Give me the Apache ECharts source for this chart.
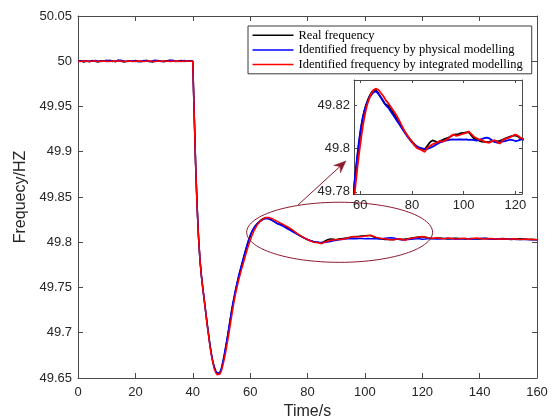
<!DOCTYPE html>
<html>
<head>
<meta charset="utf-8">
<script src="https://cdn.jsdelivr.net/npm/echarts@6/dist/echarts.min.js"></script>
<style>
  html, body { margin: 0; padding: 0; background: #fff; }
  #chart { width: 551px; height: 419px; }
</style>
</head>
<body>
<div id="chart"></div>
<script>
// Sample times (s): 1 s steps before the disturbance, 0.5 s through the dip and peak, 1 s afterwards
const time = [
  0, 1, 2, 3, 4, 5, 6, 7, 8, 9,
  10, 11, 12, 13, 14, 15, 16, 17, 18, 19,
  20, 21, 22, 23, 24, 25, 26, 27, 28, 29,
  30, 31, 32, 33, 34, 35, 36, 37, 38, 39,
  40,
  40.5, 41, 41.5, 42, 42.5, 43, 43.5, 44, 44.5, 45,
  45.5, 46, 46.5, 47, 47.5, 48, 48.5, 49, 49.5, 50,
  50.5, 51, 51.5, 52, 52.5, 53, 53.5, 54, 54.5, 55,
  55.5, 56, 56.5, 57, 57.5, 58, 58.5, 59, 59.5, 60,
  60.5, 61, 61.5, 62, 62.5, 63, 63.5, 64, 64.5, 65,
  65.5, 66, 66.5, 67, 67.5, 68, 68.5, 69, 69.5, 70,
  71, 72, 73, 74, 75, 76, 77, 78, 79, 80,
  81, 82, 83, 84, 85, 86, 87, 88, 89, 90,
  91, 92, 93, 94, 95, 96, 97, 98, 99, 100,
  101, 102, 103, 104, 105, 106, 107, 108, 109, 110,
  111, 112, 113, 114, 115, 116, 117, 118, 119, 120,
  121, 122, 123, 124, 125, 126, 127, 128, 129, 130,
  131, 132, 133, 134, 135, 136, 137, 138, 139, 140,
  141, 142, 143, 144, 145, 146, 147, 148, 149, 150,
  151, 152, 153, 154, 155, 156, 157, 158, 159, 160
];

// Measured grid frequency (Hz)
const realFreq = [
  50.0000, 50.0006, 49.9990, 50.0004, 49.9994, 50.0008, 50.0000, 49.9992, 50.0006, 50.0002,
  49.9996, 50.0010, 50.0004, 49.9994, 50.0012, 50.0002, 49.9990, 50.0000, 50.0006, 49.9996,
  50.0008, 50.0000, 49.9994, 50.0004, 50.0010, 49.9998, 49.9992, 50.0002, 50.0008, 50.0000,
  49.9994, 50.0006, 50.0010, 50.0004, 49.9996, 50.0002, 50.0008, 49.9998, 50.0004, 50.0006,
  50.0000,
  49.943, 49.887, 49.842, 49.807, 49.782, 49.764, 49.750, 49.737, 49.724, 49.711,
  49.699, 49.687, 49.677, 49.668, 49.662, 49.658, 49.655, 49.6545, 49.656, 49.660,
  49.667, 49.675, 49.684, 49.693, 49.703, 49.713, 49.723, 49.732, 49.740, 49.748,
  49.755, 49.762, 49.768, 49.774, 49.780, 49.786, 49.7915, 49.797, 49.802, 49.8065,
  49.8105, 49.8140, 49.8168, 49.8190, 49.8208, 49.8225, 49.8238, 49.8250, 49.8260, 49.8267,
  49.8271, 49.8268, 49.8262, 49.8253, 49.8244, 49.8234, 49.8225, 49.8215, 49.8205, 49.8196,
  49.8195, 49.8177, 49.8158, 49.8140, 49.8120, 49.8100, 49.8081, 49.8063, 49.8046, 49.8032,
  49.8019, 49.8008, 49.8002, 49.7998, 49.7995, 49.8012, 49.8028, 49.8037, 49.8033, 49.8027,
  49.8035, 49.8040, 49.8045, 49.8049, 49.8055, 49.8062, 49.8064, 49.8066, 49.8070, 49.8072,
  49.8074, 49.8075, 49.8060, 49.8046, 49.8042, 49.8036, 49.8031, 49.8030, 49.8029, 49.8031,
  49.8034, 49.8033, 49.8032, 49.8035, 49.8040, 49.8045, 49.8050, 49.8054, 49.8058, 49.8060,
  49.8055, 49.8047, 49.8042, 49.8041, 49.8043, 49.8046, 49.8044, 49.8040, 49.8037, 49.8039,
  49.8043, 49.8045, 49.8042, 49.8038, 49.8036, 49.8039, 49.8041, 49.8038, 49.8035, 49.8037,
  49.8040, 49.8043, 49.8041, 49.8037, 49.8034, 49.8036, 49.8039, 49.8041, 49.8038, 49.8034,
  49.8031, 49.8033, 49.8036, 49.8038, 49.8035, 49.8032, 49.8030, 49.8032, 49.8030, 49.8028
];

// Frequency identified by the physical model (Hz)
const physicalFreq = [
  49.9998, 50.0002, 50.0006, 49.9998, 50.0004, 50.0000, 50.0008, 50.0002, 49.9996, 50.0004,
  50.0010, 50.0006, 49.9998, 50.0002, 50.0008, 50.0012, 50.0004, 49.9996, 50.0000, 50.0006,
  50.0002, 49.9994, 50.0004, 50.0008, 50.0000, 49.9996, 50.0006, 50.0010, 50.0002, 49.9998,
  50.0004, 50.0000, 50.0008, 50.0010, 50.0002, 49.9996, 50.0004, 50.0008, 50.0002, 50.0004,
  50.0002,
  49.942, 49.886, 49.841, 49.806, 49.781, 49.763, 49.749, 49.736, 49.723, 49.710,
  49.698, 49.686, 49.676, 49.668, 49.662, 49.658, 49.655, 49.654, 49.656, 49.661,
  49.668, 49.676, 49.685, 49.694, 49.704, 49.714, 49.724, 49.733, 49.741, 49.749,
  49.756, 49.763, 49.769, 49.775, 49.781, 49.787, 49.7925, 49.798, 49.803, 49.8075,
  49.8112, 49.8143, 49.8168, 49.8188, 49.8205, 49.8220, 49.8232, 49.8242, 49.8250, 49.8257,
  49.8262, 49.8263, 49.8260, 49.8253, 49.8245, 49.8236, 49.8227, 49.8217, 49.8207, 49.8197,
  49.8185, 49.8167, 49.8149, 49.8131, 49.8113, 49.8095, 49.8077, 49.8059, 49.8043, 49.8028,
  49.8016, 49.8008, 49.8003, 49.8000, 49.7998, 49.7998, 49.8002, 49.8008, 49.8015, 49.8022,
  49.8028, 49.8032, 49.8036, 49.8038, 49.8040, 49.8041, 49.8040, 49.8041, 49.8042, 49.8040,
  49.8041, 49.8039, 49.8040, 49.8038, 49.8036, 49.8039, 49.8043, 49.8047, 49.8050, 49.8046,
  49.8038, 49.8030, 49.8026, 49.8028, 49.8031, 49.8034, 49.8037, 49.8040, 49.8038, 49.8034,
  49.8036, 49.8040, 49.8042, 49.8040, 49.8037, 49.8035, 49.8038, 49.8041, 49.8043, 49.8040,
  49.8036, 49.8034, 49.8037, 49.8040, 49.8042, 49.8039, 49.8036, 49.8035, 49.8038, 49.8041,
  49.8044, 49.8041, 49.8037, 49.8034, 49.8036, 49.8039, 49.8037, 49.8034, 49.8032, 49.8035,
  49.8037, 49.8034, 49.8031, 49.8029, 49.8031, 49.8033, 49.8030, 49.8028, 49.8029, 49.8027
];

// Frequency identified by the integrated model (Hz)
const integratedFreq = [
  50.0000, 49.9998, 50.0002, 50.0000, 49.9996, 50.0004, 50.0002, 49.9998, 50.0000, 50.0004,
  50.0000, 49.9996, 50.0002, 50.0000, 50.0004, 50.0002, 49.9998, 50.0000, 50.0004, 50.0000,
  49.9998, 50.0002, 50.0000, 49.9996, 50.0002, 50.0004, 50.0000, 49.9998, 50.0002, 50.0000,
  50.0004, 50.0002, 49.9998, 50.0000, 50.0002, 50.0000, 49.9996, 50.0002, 50.0004, 50.0000,
  50.0000,
  49.941, 49.885, 49.840, 49.806, 49.781, 49.763, 49.749, 49.736, 49.723, 49.709,
  49.697, 49.685, 49.675, 49.667, 49.660, 49.656, 49.6535, 49.653, 49.6545, 49.658,
  49.664, 49.671, 49.679, 49.688, 49.697, 49.707, 49.717, 49.727, 49.736, 49.744,
  49.751, 49.758, 49.764, 49.770, 49.7755, 49.781, 49.7865, 49.792, 49.797, 49.8015,
  49.8060, 49.8100, 49.8135, 49.8165, 49.8192, 49.8212, 49.8230, 49.8245, 49.8257, 49.8267,
  49.8273, 49.8275, 49.8274, 49.8270, 49.8263, 49.8255, 49.8247, 49.8240, 49.8230, 49.8220,
  49.8206, 49.8188, 49.8171, 49.8153, 49.8131, 49.8107, 49.8083, 49.8064, 49.8047, 49.8031,
  49.8014, 49.8001, 49.7996, 49.7991, 49.7984, 49.8003, 49.8011, 49.8019, 49.8024, 49.8029,
  49.8034, 49.8031, 49.8039, 49.8044, 49.8056, 49.8064, 49.8058, 49.8060, 49.8064, 49.8068,
  49.8071, 49.8078, 49.8066, 49.8054, 49.8047, 49.8041, 49.8038, 49.8032, 49.8028, 49.8026,
  49.8034, 49.8038, 49.8030, 49.8022, 49.8036, 49.8043, 49.8047, 49.8052, 49.8058, 49.8064,
  49.8059, 49.8049, 49.8043, 49.8045, 49.8049, 49.8044, 49.8039, 49.8041, 49.8046, 49.8043,
  49.8038, 49.8036, 49.8040, 49.8044, 49.8041, 49.8037, 49.8039, 49.8043, 49.8046, 49.8042,
  49.8038, 49.8035, 49.8038, 49.8042, 49.8039, 49.8035, 49.8037, 49.8040, 49.8037, 49.8033,
  49.8035, 49.8038, 49.8035, 49.8031, 49.8033, 49.8036, 49.8033, 49.8030, 49.8031, 49.8029
];

const seriesNames = [
  'Real frequency',
  'Identified frequency by physical modelling',
  'Identified frequency by integrated modelling'
];
const seriesColors = ['#000000', '#0000ff', '#ff0000'];

// Main axes
const mainXRange = [0, 160];
const mainXStep = 20;
const mainYRange = [49.65, 50.05];
const mainYStep = 0.05;

// Detail (zoomed) axes
const detailXRange = [57.6, 122.6];
const detailXTicks = [60, 80, 100, 120];
const detailYRange = [49.779, 49.8315];
const detailYTicks = [49.78, 49.8, 49.82];

// Highlight ellipse and pointer arrow, in data units of the main axes
const ellipseCenter = [91.2, 49.811];
const ellipseRadius = [32.4, 0.0332];
const arrowFrom = [76.7, 49.8412];
const arrowTo = [93.4, 49.8898];
const markColor = '#8c1a2e';

const axisColor = '#4a4a4a';
const textColor = '#262626';
const sansFont = '"Liberation Sans", Arial, Helvetica, sans-serif';
const serifFont = '"Liberation Serif", "Times New Roman", serif';

function pairs(values) {
  return time.map((t, i) => [t, values[i]]);
}
const seriesValues = [realFreq, physicalFreq, integratedFreq];

function boxAxis(base, showLabel, tickLen) {
  return Object.assign({
    type: 'value',
    axisLine: { show: true, onZero: false, lineStyle: { color: axisColor, width: 1 } },
    axisTick: { show: true, inside: true, length: tickLen, lineStyle: { color: axisColor, width: 1 } },
    axisLabel: { show: showLabel, color: textColor, fontSize: 13, fontFamily: sansFont },
    splitLine: { show: false }
  }, base);
}

const chart = echarts.init(document.getElementById('chart'), null, { renderer: 'canvas' });

const lineSeries = [];
seriesValues.forEach((vals, k) => {
  lineSeries.push({
    name: seriesNames[k], type: 'line', xAxisIndex: 0, yAxisIndex: 0,
    data: pairs(vals), showSymbol: false, symbol: 'none',
    lineStyle: { color: seriesColors[k], width: 1.5 }, itemStyle: { color: seriesColors[k] },
    z: 3 + k
  });
});
seriesValues.forEach((vals, k) => {
  lineSeries.push({
    name: seriesNames[k], type: 'line', xAxisIndex: 2, yAxisIndex: 2,
    data: pairs(vals), showSymbol: false, symbol: 'none', clip: true,
    lineStyle: { color: seriesColors[k], width: 1.8 }, itemStyle: { color: seriesColors[k] },
    z: 13 + k
  });
});

// Ellipse around the recovery region
lineSeries.push({
  type: 'custom', xAxisIndex: 0, yAxisIndex: 0, silent: true, z: 8,
  data: [ellipseCenter],
  renderItem: function (params, api) {
    const pts = [];
    for (let k = 0; k <= 120; k++) {
      const a = 2 * Math.PI * k / 120;
      pts.push(api.coord([ellipseCenter[0] + ellipseRadius[0] * Math.cos(a),
                          ellipseCenter[1] + ellipseRadius[1] * Math.sin(a)]));
    }
    return { type: 'polyline', shape: { points: pts }, style: { fill: null, stroke: markColor, lineWidth: 1 } };
  }
});

// Arrow pointing to the detail panel
lineSeries.push({
  type: 'custom', xAxisIndex: 0, yAxisIndex: 0, silent: true, z: 8,
  data: [arrowFrom],
  renderItem: function (params, api) {
    const p0 = api.coord(arrowFrom);
    const p1 = api.coord(arrowTo);
    const dx = p1[0] - p0[0], dy = p1[1] - p0[1];
    const len = Math.sqrt(dx * dx + dy * dy);
    const ux = dx / len, uy = dy / len;
    const nx = -uy, ny = ux;
    const L = 12, W = 5, notch = 4;
    const left = [p1[0] - ux * L + nx * W, p1[1] - uy * L + ny * W];
    const right = [p1[0] - ux * L - nx * W, p1[1] - uy * L - ny * W];
    const back = [p1[0] - ux * (L - notch), p1[1] - uy * (L - notch)];
    return {
      type: 'group',
      children: [
        { type: 'line', shape: { x1: p0[0], y1: p0[1], x2: back[0], y2: back[1] },
          style: { stroke: markColor, lineWidth: 1 } },
        { type: 'polygon', shape: { points: [p1, left, back, right] },
          style: { fill: markColor, stroke: markColor, lineWidth: 0.5 } }
      ]
    };
  }
});

const option = {
  animation: false,
  backgroundColor: '#ffffff',
  grid: [
    { left: 78, top: 16, width: 459, height: 362, show: false, outerBoundsMode: 'none', containLabel: false },
    { left: 354, top: 80, width: 168, height: 114, show: true, backgroundColor: '#ffffff', borderWidth: 0, z: 10,
      outerBoundsMode: 'none', containLabel: false }
  ],
  legend: {
    data: seriesNames,
    orient: 'vertical',
    left: 248, top: 26,
    itemWidth: 41, itemHeight: 1.5, itemGap: 0,
    icon: 'rect',
    padding: [2, 9, 2, 4.5],
    backgroundColor: '#ffffff',
    borderColor: '#3a3a3a', borderWidth: 1,
    textStyle: { fontFamily: serifFont, fontSize: 12.5, color: '#000', lineHeight: 14.6 },
    selectedMode: false,
    z: 20
  },
  xAxis: [
    boxAxis({ gridIndex: 0, position: 'bottom', min: mainXRange[0], max: mainXRange[1], interval: mainXStep,
      name: 'Time/s', nameLocation: 'middle', nameGap: 25,
      nameTextStyle: { color: textColor, fontSize: 16, fontFamily: sansFont } }, true, 5),
    boxAxis({ gridIndex: 0, position: 'top', min: mainXRange[0], max: mainXRange[1], interval: mainXStep }, false, 5),
    boxAxis({ gridIndex: 1, position: 'bottom', min: detailXRange[0], max: detailXRange[1], z: 11 }, true, 3),
    boxAxis({ gridIndex: 1, position: 'top', min: detailXRange[0], max: detailXRange[1], z: 11 }, false, 3)
  ],
  yAxis: [
    boxAxis({ gridIndex: 0, position: 'left', min: mainYRange[0], max: mainYRange[1], interval: mainYStep,
      name: 'Frequecy/HZ', nameLocation: 'middle', nameGap: 49, nameRotate: 90,
      nameTextStyle: { color: textColor, fontSize: 16, fontFamily: sansFont } }, true, 5),
    boxAxis({ gridIndex: 0, position: 'right', min: mainYRange[0], max: mainYRange[1], interval: mainYStep }, false, 5),
    boxAxis({ gridIndex: 1, position: 'left', min: detailYRange[0], max: detailYRange[1], z: 11 }, true, 3),
    boxAxis({ gridIndex: 1, position: 'right', min: detailYRange[0], max: detailYRange[1], z: 11 }, false, 3)
  ],
  series: lineSeries
};

// Detail axes: explicit tick positions
option.xAxis[2].axisLabel.customValues = detailXTicks;
option.xAxis[2].axisTick.customValues = detailXTicks;
option.xAxis[2].axisLabel.margin = 5;
option.xAxis[3].axisTick.customValues = detailXTicks;
option.yAxis[2].axisLabel.customValues = detailYTicks;
option.yAxis[2].axisTick.customValues = detailYTicks;
option.yAxis[2].axisLabel.margin = 4;
option.yAxis[2].axisLabel.formatter = v => String(Math.round(v * 1000) / 1000);
option.yAxis[3].axisTick.customValues = detailYTicks;
option.yAxis[0].axisLabel.margin = 6;
option.xAxis[0].axisLabel.margin = 8;

chart.setOption(option);
</script>
</body>
</html>
